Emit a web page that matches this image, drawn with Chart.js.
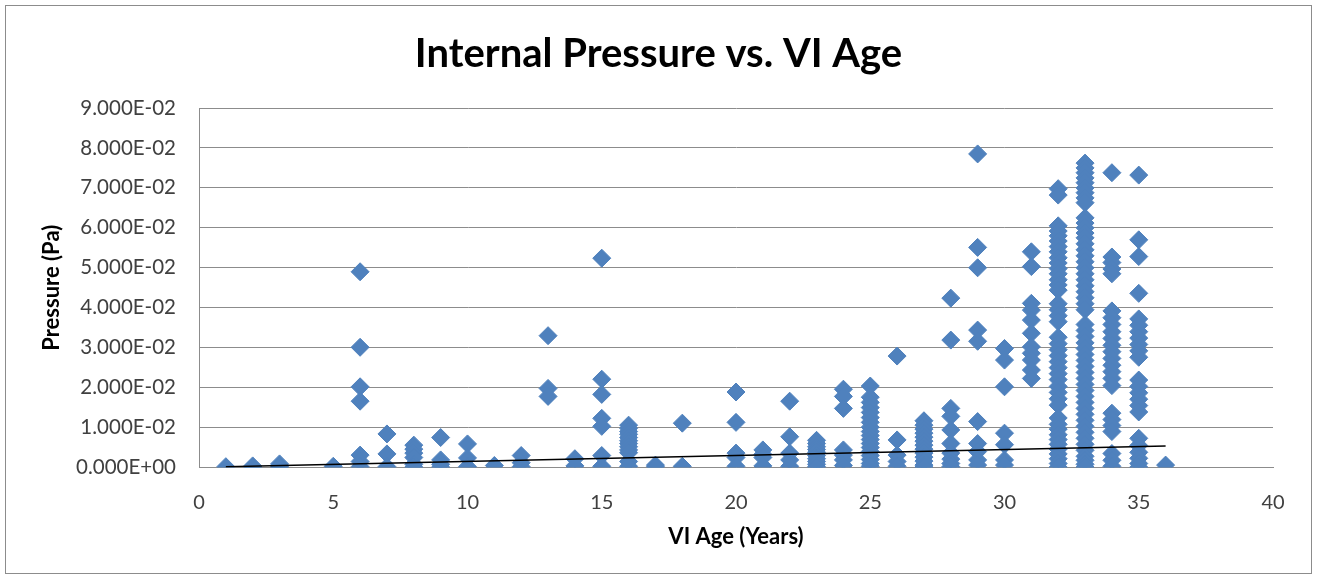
<!DOCTYPE html>
<html>
<head>
<meta charset="utf-8">
<script src="https://cdn.jsdelivr.net/npm/chart.js@4.4.1/dist/chart.umd.min.js"></script>
<style>
  html, body { margin: 0; padding: 0; background: #ffffff; }
  #wrap { width: 1317px; height: 578px; position: relative; }
</style>
</head>
<body>
<div id="wrap"><canvas id="c" width="1317" height="578"></canvas></div>
<script>
// ---- Data ----
const chartTitle = "Internal Pressure vs. VI Age";
const xAxisTitle = "VI Age (Years)";
const yAxisTitle = "Pressure (Pa)";

// VI ages (x categories that carry points)
const ages = [1, 2, 3, 5, 6, 7, 8, 9, 10, 11, 12, 13, 14, 15, 16, 17, 18, 20, 21, 22, 23, 24, 25, 26, 27, 28, 29, 30, 31, 32, 33, 34, 35, 36];

// Pressure readings (Pa) for each age, same order as `ages`
const pressuresByAge = [
  [0.0002],
  [0.0004, 0.0001],
  [0.0009, 0.0004, 0.0001],
  [0.0003],
  [0.049, 0.0301, 0.0202, 0.0166, 0.0031, 0.0015, 0.0002],
  [0.0084, 0.0034, 0.0002],
  [0.0056, 0.0046, 0.0036, 0.0025, 0.0008, 0.0001],
  [0.0075, 0.0019, 0.0008, 0.0001],
  [0.0059, 0.0024, 0.0002],
  [0.0005],
  [0.003, 0.0012, 0.0002],
  [0.033, 0.0198, 0.0178],
  [0.0022, 0.0004],
  [0.0524, 0.0221, 0.0183, 0.0123, 0.0103, 0.003, 0.0003],
  [0.0106, 0.0098, 0.009, 0.0083, 0.0075, 0.0067, 0.006, 0.0052, 0.0044, 0.0037, 0.0015, 0.0003],
  [0.0006, 0.0002],
  [0.0111, 0.0003],
  [0.0189, 0.0113, 0.0036, 0.0025, 0.0003],
  [0.0044, 0.0033, 0.0025, 0.0004],
  [0.0166, 0.0077, 0.0036, 0.0019, 0.0003],
  [0.0068, 0.006, 0.0052, 0.0045, 0.0038, 0.003, 0.0022, 0.0015, 0.0008, 0.0002],
  [0.0196, 0.0178, 0.0148, 0.0044, 0.0031, 0.0019, 0.0005],
  [0.0204, 0.0176, 0.0163, 0.015, 0.0138, 0.0125, 0.0113, 0.0101, 0.009, 0.008, 0.007, 0.006, 0.005, 0.004, 0.003, 0.002, 0.001, 0.0003],
  [0.0279, 0.0069, 0.0031, 0.0015, 0.0003],
  [0.0117, 0.0106, 0.0096, 0.0086, 0.0076, 0.0066, 0.0056, 0.0046, 0.0036, 0.0026, 0.0016, 0.0006, 0.0001],
  [0.0424, 0.0319, 0.0148, 0.0128, 0.0094, 0.006, 0.0036, 0.0021, 0.001, 0.0002],
  [0.0785, 0.0551, 0.05, 0.0344, 0.0316, 0.0115, 0.006, 0.004, 0.0019, 0.0006],
  [0.0298, 0.0269, 0.0202, 0.0086, 0.0057, 0.0019, 0.0006],
  [0.054, 0.0503, 0.0411, 0.0394, 0.0369, 0.0336, 0.0302, 0.0286, 0.0269, 0.0244, 0.0223],
  [0.0698, 0.0682, 0.0605, 0.0592, 0.058, 0.0567, 0.0553, 0.054, 0.0525, 0.0512, 0.0498, 0.0485, 0.047, 0.0457, 0.0444, 0.041, 0.0395, 0.038, 0.0365, 0.0326, 0.031, 0.0295, 0.028, 0.0265, 0.025, 0.0235, 0.022, 0.0203, 0.0188, 0.0172, 0.0156, 0.0124, 0.0108, 0.0096, 0.0082, 0.007, 0.0058, 0.0046, 0.0034, 0.0022, 0.001, 0.0001],
  [0.0762, 0.075, 0.0738, 0.0725, 0.0713, 0.07, 0.0688, 0.0675, 0.0663, 0.0625, 0.0612, 0.06, 0.0587, 0.0575, 0.056, 0.0545, 0.053, 0.0515, 0.05, 0.0485, 0.047, 0.0455, 0.044, 0.0425, 0.041, 0.0395, 0.0358, 0.0343, 0.0328, 0.0312, 0.0298, 0.0283, 0.0268, 0.0253, 0.0238, 0.0223, 0.0208, 0.0193, 0.0178, 0.0163, 0.0148, 0.0133, 0.0118, 0.0103, 0.0088, 0.0073, 0.0058, 0.0043, 0.0028, 0.0018, 0.0008, 0.0001],
  [0.0738, 0.0527, 0.0513, 0.0497, 0.0485, 0.0392, 0.0375, 0.0358, 0.034, 0.0323, 0.0306, 0.029, 0.0273, 0.0256, 0.024, 0.0223, 0.0205, 0.0136, 0.012, 0.0105, 0.009, 0.0035, 0.0018, 0.0003],
  [0.0732, 0.057, 0.0528, 0.0436, 0.0372, 0.0356, 0.034, 0.0324, 0.0308, 0.0292, 0.0276, 0.0219, 0.0203, 0.0187, 0.0171, 0.0155, 0.0139, 0.0073, 0.0055, 0.0038, 0.0023, 0.001, 0.0001],
  [0.0006]
];

// Linear trendline end points as drawn in the reference
const trendX = [1, 36];
const trendY = [0.0002, 0.0054];

// Axis ranges / steps
const xMin = 0, xMax = 40, xStep = 5;
const yMin = 0, yMax = 0.09, yStep = 0.01;

// ---- Build datasets ----
const scatterPoints = [];
ages.forEach((a, i) => pressuresByAge[i].forEach(p => scatterPoints.push({ x: a, y: p })));
const trendPoints = trendX.map((x, i) => ({ x: x, y: trendY[i] }));

function sciLabel(v) {
  const s = Number(v).toExponential(3);
  const [m, e] = s.split('e');
  const sign = e[0] === '-' ? '-' : '+';
  const digits = e.replace(/[+-]/, '').padStart(2, '0');
  return m + 'E' + sign + digits;
}

const borderPlugin = {
  id: 'outerBorder',
  beforeDraw(chart) {
    const ctx = chart.ctx;
    ctx.save();
    ctx.fillStyle = '#ffffff';
    ctx.fillRect(0, 0, chart.width, chart.height);
    ctx.restore();
  },
  afterDraw(chart) {
    const ctx = chart.ctx;
    ctx.save();
    ctx.strokeStyle = '#8c8c8c';
    ctx.lineWidth = 1;
    ctx.strokeRect(5.5, 5.5, chart.width - 11, chart.height - 10);
    ctx.restore();
  }
};

const AXIS_LEFT = 199, AXIS_BOTTOM = 467.5, LAYOUT_LEFT = 44, LAYOUT_BOTTOM = 20;

new Chart(document.getElementById('c'), {
  type: 'scatter',
  data: {
    datasets: [
      {
        label: 'Pressure',
        data: scatterPoints,
        pointStyle: 'rectRot',
        pointRadius: 9,
        pointHoverRadius: 9,
        backgroundColor: '#4F81BD',
        borderColor: '#4F81BD',
        borderWidth: 1,
        order: 2
      },
      {
        label: 'Trend',
        type: 'line',
        data: trendPoints,
        borderColor: '#000000',
        borderWidth: 1.5,
        pointRadius: 0,
        fill: false,
        order: 1
      }
    ]
  },
  options: {
    responsive: false,
    animation: false,
    events: [],
    layout: { padding: { left: LAYOUT_LEFT, right: 44, top: 0, bottom: LAYOUT_BOTTOM } },
    plugins: {
      legend: { display: false },
      tooltip: { enabled: false },
      title: {
        display: true,
        text: chartTitle,
        color: '#000000',
        font: { family: 'Lato', size: 40, weight: 'bold' },
        padding: { top: 30, bottom: 30 }
      }
    },
    scales: {
      x: {
        type: 'linear',
        min: xMin, max: xMax,
        ticks: { stepSize: xStep, padding: 23, color: '#404040', font: { family: 'Lato', size: 20 } },
        grid: { display: false, drawTicks: false },
        border: { display: true, color: '#8c8c8c', width: 1 },
        title: { display: true, text: xAxisTitle, color: '#000000', font: { family: 'Lato', size: 22, weight: 'bold' }, padding: { top: 4, bottom: 8 } },
        afterFit(scale) { scale.height = 578 - AXIS_BOTTOM - LAYOUT_BOTTOM; }
      },
      y: {
        type: 'linear',
        min: yMin, max: yMax,
        ticks: { stepSize: yStep, padding: 23, color: '#404040', font: { family: 'Lato', size: 20.5 }, callback: (v) => sciLabel(v) },
        grid: { display: true, color: '#8c8c8c', lineWidth: 1, drawTicks: false },
        border: { display: true, color: '#8c8c8c', width: 1 },
        title: { display: true, text: yAxisTitle, color: '#000000', font: { family: 'Lato', size: 22, weight: 'bold' }, padding: { top: -5, bottom: 4 } },
        afterFit(scale) { scale.width = AXIS_LEFT - LAYOUT_LEFT; }
      }
    }
  },
  plugins: [borderPlugin]
});
</script>
</body>
</html>
